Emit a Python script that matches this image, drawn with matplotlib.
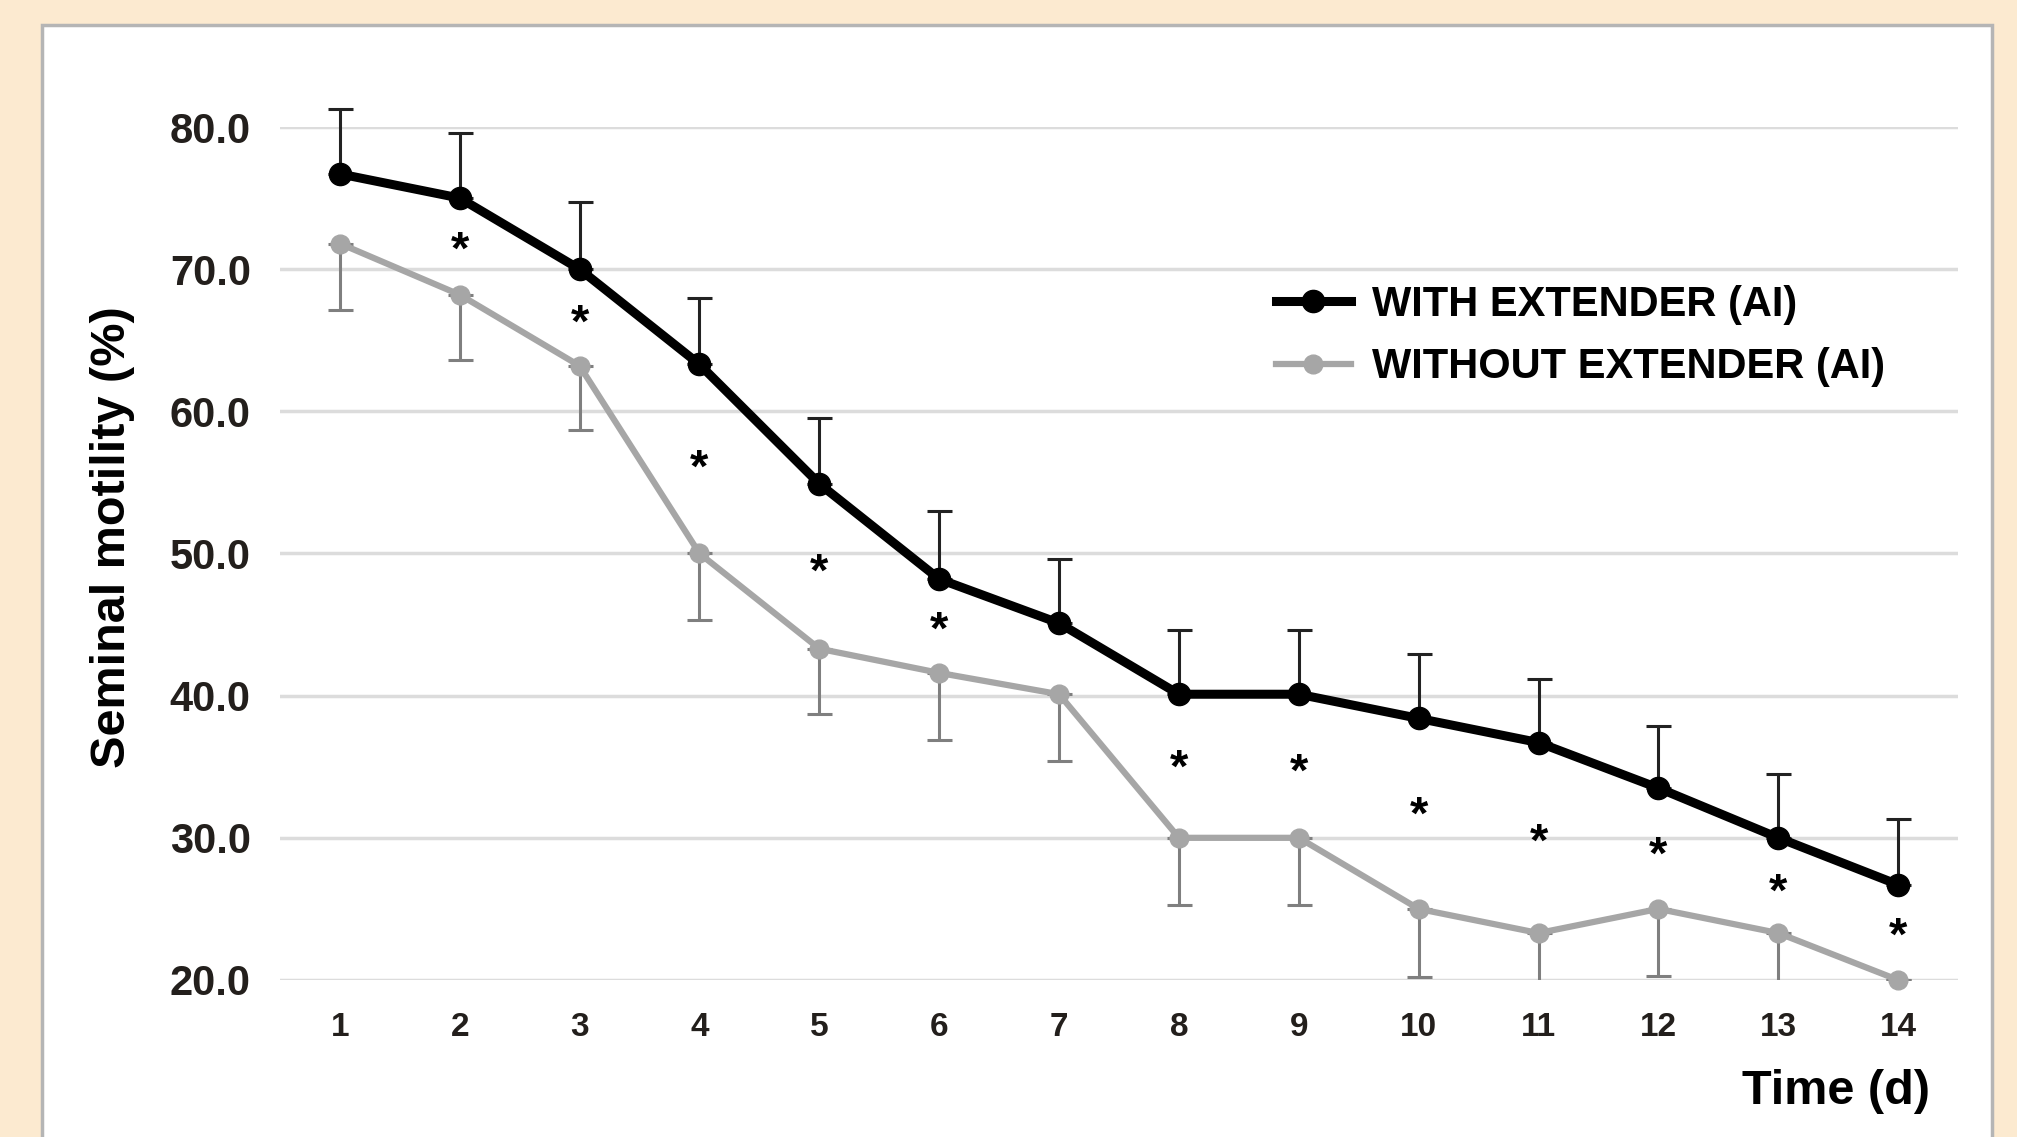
import matplotlib.pyplot as plt
import matplotlib.patches as patches
import numpy as np

days = [1, 2, 3, 4, 5, 6, 7, 8, 9, 10, 11, 12, 13, 14]

with_ext = [76.7, 75.0, 70.0, 63.3, 54.9, 48.2, 45.1, 40.1, 40.1, 38.4, 36.7, 33.5, 30.0, 26.7]
with_sd = [4.6, 4.6, 4.7, 4.7, 4.6, 4.8, 4.5, 4.5, 4.5, 4.5, 4.5, 4.4, 4.5, 4.6]

without_ext = [71.8, 68.2, 63.2, 50.0, 43.3, 41.6, 40.1, 30.0, 30.0, 25.0, 23.3, 25.0, 23.3, 20.0]
without_sd = [4.7, 4.6, 4.5, 4.7, 4.6, 4.7, 4.7, 4.7, 4.7, 4.8, 4.7, 4.7, 4.7, 0.0]

star_days = [2, 3, 4, 5, 6, 8, 9, 10, 11, 12, 13, 14]
star_y = [71.2, 66.1, 55.9, 48.6, 44.5, 34.8, 34.5, 31.5, 29.6, 28.7, 26.1, 23.0]

y_ticks = [20, 30, 40, 50, 60, 70, 80]

plt.rcParams['font.family'] = ['Liberation Sans', 'DejaVu Sans']

fig = plt.figure(figsize=(20.17, 11.37), dpi=100)
fig.patch.set_facecolor('#fcead0')

# white panel with grey border
panel = patches.Rectangle((42 / 2017, -0.05), (1992 - 42) / 2017, 1.05 - 25 / 1137,
                          transform=fig.transFigure, facecolor='white',
                          edgecolor='#b5b5b5', linewidth=2.5, zorder=0)
fig.patches.append(panel)

ax = fig.add_axes([0.1388, 0.1381, 0.9708 - 0.1388, 0.8883 - 0.1381])
ax.set_facecolor('none')
ax.set_zorder(2)

x = np.array(days)

# error bars: black only upward, grey only downward
ax.errorbar(x, with_ext, yerr=[np.zeros(len(days)), with_sd], fmt='none',
            ecolor='#222222', elinewidth=2.2, capsize=9, capthick=2.2, zorder=3, clip_on=False)
ax.errorbar(x, without_ext, yerr=[without_sd, np.zeros(len(days))], fmt='none',
            ecolor='#7f7f7f', elinewidth=2.2, capsize=9, capthick=2.2, zorder=3)

ax.plot(x, with_ext, color='black', linewidth=6.5, marker='o', markersize=16,
        label='WITH EXTENDER (AI)', zorder=5, clip_on=False)
ax.plot(x, without_ext, color='#a6a6a6', linewidth=4.5, marker='o', markersize=13.5,
        label='WITHOUT EXTENDER (AI)', zorder=4, clip_on=False)

for d, s in zip(star_days, star_y):
    ax.text(d, s, '*', ha='center', va='center', fontsize=34, fontweight='bold', color='black')

ax.set_xlim(0.5, 14.5)
ax.set_ylim(20, 80)
ax.set_yticks(y_ticks)
ax.set_yticklabels(['%.1f' % v for v in y_ticks], fontsize=30, fontweight='bold', color='#231f1c')
ax.set_xticks(days)
ax.set_xticklabels([str(d) for d in days], fontsize=24, fontweight='bold', color='#231f1c')
ax.tick_params(axis='both', length=0)
ax.tick_params(axis='y', pad=21)
ax.tick_params(axis='x', pad=23)

ax.grid(axis='y', color='#dcdcdc', linewidth=2.5, zorder=0)
ax.set_axisbelow(True)
for sp in ax.spines.values():
    sp.set_visible(False)

fig.text(0.056, 0.528, 'Seminal motility (%)', rotation=90, ha='center', va='center',
         fontsize=35, fontweight='bold')
fig.text(0.957, 0.040, 'Time (d)', ha='right', va='center', fontsize=35, fontweight='bold')

leg = ax.legend(loc='center left', bbox_to_anchor=(0.571, 0.755), frameon=False,
                prop={'weight': 'bold', 'size': 30}, handlelength=1.8,
                handletextpad=0.5, labelspacing=0.55)

fig.savefig('out.png', dpi=100, facecolor=fig.get_facecolor())
